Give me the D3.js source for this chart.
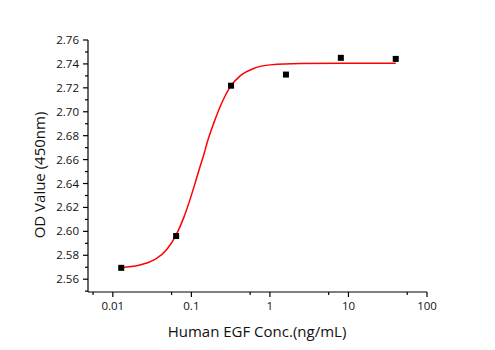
<!DOCTYPE html>
<html>
<head>
<meta charset="utf-8">
<script src="https://cdn.jsdelivr.net/npm/d3@7"></script>
<style>
  html, body { margin: 0; padding: 0; background: #fff; }
  svg { display: block; }
  text { font-family: "Open Sans", "Noto Sans", sans-serif; fill: #111; }
</style>
</head>
<body>
<svg id="chart" width="495" height="350"></svg>
<script>
// Measured standards: EGF concentration (ng/mL) and optical density at 450 nm
const concentrations = [0.0128, 0.064, 0.32, 1.6, 8, 40];
const odValues = [2.5695, 2.5961, 2.7218, 2.7311, 2.7451, 2.7442];

// Fitted dose-response curve, sampled along its length
const fitConc = [0.0128, 0.0214, 0.027, 0.0349, 0.0492, 0.0633, 0.080, 0.0974, 0.1127, 0.13,
                 0.1439, 0.16, 0.1928, 0.2466, 0.314, 0.4217, 0.622, 1.015, 2.44, 8, 40];
const fitOD = [2.5698, 2.5717, 2.5735, 2.5767, 2.5852, 2.5965, 2.6115, 2.6278, 2.6412, 2.6548,
               2.6640, 2.6749, 2.6905, 2.7082, 2.7210, 2.7302, 2.7362, 2.7392, 2.7403, 2.7405, 2.7405];

// Axis ticks
const xMajorTicks = [0.01, 0.1, 1, 10, 100];
const xMajorLabels = ["0.01", "0.1", "1", "10", "100"];
const xMinorTicks = [0.0056, 0.056, 0.56, 5.6, 56];
const yMajorTicks = [2.56, 2.58, 2.60, 2.62, 2.64, 2.66, 2.68, 2.70, 2.72, 2.74, 2.76];
const yMinorTicks = [2.55, 2.57, 2.59, 2.61, 2.63, 2.65, 2.67, 2.69, 2.71, 2.73, 2.75];

const xTitle = "Human EGF Conc.(ng/mL)";
const yTitle = "OD Value (450nm)";

const svg = d3.select("#chart");
const plotLeft = 88, plotRight = 427, plotTop = 40, plotBottom = 292;

const x = d3.scaleLog().domain([0.00483, 100]).range([plotLeft, plotRight]);
const y = d3.scaleLinear().domain([2.5493, 2.76]).range([plotBottom, plotTop]);

// X axis
const gx = svg.append("g").attr("transform", `translate(0,${plotBottom})`);
gx.append("path").attr("d", `M${plotLeft},0H${plotRight}`).attr("stroke", "#000").attr("stroke-width", 1.2).attr("fill", "none");
gx.selectAll("line.major").data(xMajorTicks).join("line").attr("class", "major")
  .attr("x1", d => x(d)).attr("x2", d => x(d)).attr("y1", 0).attr("y2", 5)
  .attr("stroke", "#000").attr("stroke-width", 1.2);
gx.selectAll("line.minor").data(xMinorTicks).join("line").attr("class", "minor")
  .attr("x1", d => x(d)).attr("x2", d => x(d)).attr("y1", 0).attr("y2", 3)
  .attr("stroke", "#000").attr("stroke-width", 1.2);
gx.selectAll("text").data(xMajorTicks).join("text")
  .attr("x", d => x(d)).attr("y", 18).attr("text-anchor", "middle")
  .attr("font-size", 11.5).text((d, i) => xMajorLabels[i]);

// Y axis
const gy = svg.append("g").attr("transform", `translate(${plotLeft},0)`);
gy.append("path").attr("d", `M0,${plotTop}V${plotBottom}`).attr("stroke", "#000").attr("stroke-width", 1.2).attr("fill", "none");
gy.selectAll("line.major").data(yMajorTicks).join("line").attr("class", "major")
  .attr("x1", -5).attr("x2", 0).attr("y1", d => y(d)).attr("y2", d => y(d))
  .attr("stroke", "#000").attr("stroke-width", 1.2);
gy.selectAll("line.minor").data(yMinorTicks).join("line").attr("class", "minor")
  .attr("x1", -3).attr("x2", 0).attr("y1", d => y(d)).attr("y2", d => y(d))
  .attr("stroke", "#000").attr("stroke-width", 1.2);
gy.selectAll("text").data(yMajorTicks).join("text")
  .attr("x", -9).attr("y", d => y(d)).attr("dy", "0.35em").attr("text-anchor", "end")
  .attr("font-size", 11.5).text(d => d.toFixed(2));

// Axis titles
svg.append("text").attr("x", 257).attr("y", 337).attr("text-anchor", "middle")
  .attr("font-size", 15).text(xTitle);
svg.append("text").attr("transform", `translate(45,${(plotTop + plotBottom) / 2 + 9}) rotate(-90)`)
  .attr("text-anchor", "middle").attr("font-size", 15).text(yTitle);

// Fitted curve
const line = d3.line().x(d => x(d[0])).y(d => y(d[1])).curve(d3.curveMonotoneX);
svg.append("path").datum(fitConc.map((c, i) => [c, fitOD[i]]))
  .attr("d", line).attr("fill", "none").attr("stroke", "#ff0000").attr("stroke-width", 1.5);

// Data points
const s = 6;
svg.selectAll("rect.pt").data(concentrations.map((c, i) => [c, odValues[i]])).join("rect")
  .attr("class", "pt")
  .attr("x", d => x(d[0]) - s / 2).attr("y", d => y(d[1]) - s / 2)
  .attr("width", s).attr("height", s).attr("fill", "#000");
</script>
</body>
</html>
